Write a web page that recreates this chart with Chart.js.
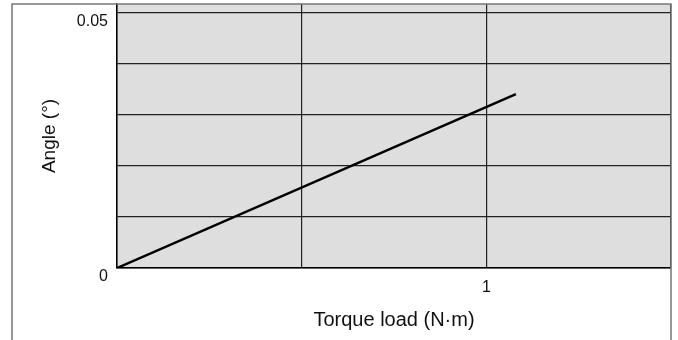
<!DOCTYPE html>
<html>
<head>
<meta charset="utf-8">
<script src="https://cdn.jsdelivr.net/npm/chart.js@4.4.1/dist/chart.umd.min.js"></script>
<style>
  html, body { margin: 0; padding: 0; background: #fff; }
  #wrap { width: 678px; height: 340px; position: relative; }
</style>
</head>
<body>
<div id="wrap"><canvas id="anguloChart"></canvas></div>
<script>
// Torque vs angle (straight line from origin)
var torque = [0, 1.08];
var angle = [0, 0.034];

// grid positions and labels shown on them
var xTicks = [0, 0.5, 1, 1.5];
var xLabels = { 1: '1' };
var yTicks = [0, 0.01, 0.02, 0.03, 0.04, 0.05];
var yLabels = { 0: '0', 0.05: '0.05' };

var fuente = "'Liberation Sans', Arial, sans-serif";

// gray plot background + outer frame
var fondoPlugin = {
    id: 'fondo',
    beforeDraw: function (chart) {
        var a = chart.chartArea, ctx = chart.ctx;
        ctx.save();
        ctx.fillStyle = '#dedede';
        ctx.fillRect(a.left, a.top, a.right - a.left, a.bottom - a.top);
        ctx.restore();
    },
    afterDraw: function (chart) {
        var a = chart.chartArea, ctx = chart.ctx;
        ctx.save();
        ctx.strokeStyle = '#777';
        ctx.lineWidth = 1.5;
        ctx.beginPath();
        ctx.moveTo(12, chart.height);
        ctx.lineTo(12, a.top);
        ctx.lineTo(a.right, a.top);
        ctx.lineTo(a.right, chart.height);
        ctx.stroke();
        ctx.restore();
    }
};

// fixed axis sizes, no extra room for the edge labels
function sinPadding(s) {
    s.paddingTop = 0;
    s.paddingBottom = 0;
    s.paddingLeft = 0;
    s.paddingRight = 0;
}

var ctx = document.getElementById('anguloChart');
var chartAngulo = new Chart(ctx, {
    type: 'scatter',
    data: {
        datasets: [{
            data: torque.map(function (t, i) { return { x: t, y: angle[i] }; }),
            showLine: true,
            borderColor: '#000',
            borderWidth: 2.5,
            pointRadius: 0,
            tension: 0
        }]
    },
    options: {
        responsive: true,
        maintainAspectRatio: false,
        animation: false,
        layout: { padding: { top: 4, right: 7, left: 0, bottom: 0 } },
        plugins: { legend: { display: false }, tooltip: { enabled: false } },
        scales: {
            x: {
                type: 'linear',
                min: 0,
                max: 1.5,
                afterFit: function (s) { s.height = 72; sinPadding(s); },
                afterBuildTicks: function (s) { s.ticks = xTicks.map(function (v) { return { value: v }; }); },
                grid: { color: '#222', lineWidth: 1.2, drawTicks: false },
                border: { color: '#000', width: 1.5 },
                ticks: {
                    padding: 10,
                    color: '#111',
                    font: { family: fuente, size: 16 },
                    maxRotation: 0,
                    callback: function (v) { return xLabels[v] || ''; }
                },
                title: {
                    display: true,
                    text: 'Torque load (N·m)',
                    color: '#111',
                    font: { family: fuente, size: 20 },
                    padding: { top: 0, bottom: 8 }
                }
            },
            y: {
                min: 0,
                max: 0.0516,
                afterFit: function (s) { s.width = 117; sinPadding(s); },
                afterBuildTicks: function (s) { s.ticks = yTicks.map(function (v) { return { value: v }; }); },
                grid: { color: '#222', lineWidth: 1.2, drawTicks: false },
                border: { color: '#000', width: 1.5 },
                ticks: {
                    padding: 9,
                    labelOffset: 9,
                    color: '#111',
                    font: { family: fuente, size: 16 },
                    callback: function (v) { return yLabels[v] || ''; }
                },
                title: {
                    display: true,
                    text: 'Angle (°)',
                    color: '#111',
                    font: { family: fuente, size: 19 },
                    padding: { top: 38, bottom: 0 }
                }
            }
        }
    },
    plugins: [fondoPlugin]
});
</script>
</body>
</html>
